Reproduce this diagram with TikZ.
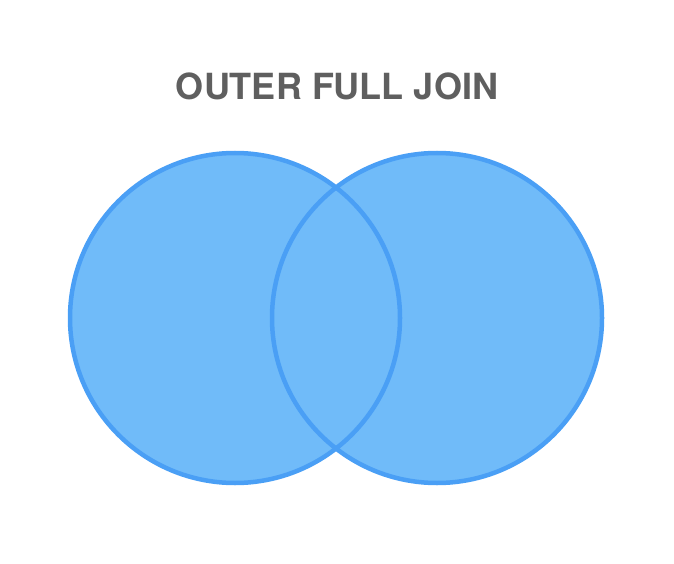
\documentclass[tikz,border=0pt]{standalone}
\usepackage{fontspec}
\setmainfont{TeX Gyre Heros}
\definecolor{fillblue}{HTML}{70BBF9}
\definecolor{lineblue}{HTML}{4A9FF5}
\definecolor{titlegray}{HTML}{5F5F5F}
\begin{document}
\begin{tikzpicture}[x=1pt,y=-1pt,
  setfill/.style={fill=fillblue,draw=none},
  setline/.style={draw=lineblue,line width=4.5pt},
  title/.style={font=\fontsize{36}{40}\selectfont\bfseries,text=titlegray,inner sep=0pt,anchor=base}]
\useasboundingbox (0,0) rectangle (674,564);
\coordinate (cl) at (235,318);
\coordinate (cr) at (437,318);
\fill[setfill] (cl) circle[radius=165];
\fill[setfill] (cr) circle[radius=165];
\draw[setline] (cl) circle[radius=165];
\draw[setline] (cr) circle[radius=165];
\node[title] (t) at (337,100) {OUTER FULL JOIN};
\end{tikzpicture}
\end{document}
